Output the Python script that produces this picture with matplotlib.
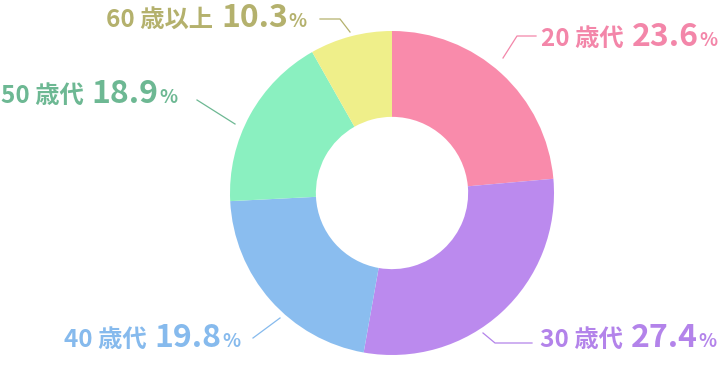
import matplotlib
matplotlib.use("Agg")
import matplotlib.pyplot as plt

# data
ages = ["20 歳代", "30 歳代", "40 歳代", "50 歳代", "60 歳以上"]
label_pct = [23.6, 27.4, 19.8, 18.9, 10.3]
# arc sizes as drawn in the source chart (they do not follow the labels exactly)
arc_share = [23.6, 29.2, 21.4, 17.6, 8.2]
wedge_colors = ["#F98BAB", "#BB8AEE", "#8ABDEF", "#8AF0C0", "#EFEF8A"]
text_colors = ["#F386A9", "#B383EA", "#86BAED", "#6DB893", "#B4B16D"]

W, H = 719, 382
FONT = ["Noto Sans CJK JP", "DejaVu Sans"]

# label layout in pixel coords (x, baseline y) and leader line points
label_pos = [(541, 46), (540, 347), (64, 347), (1, 103), (106, 27)]
leaders = [
    [(503, 58), (517, 36), (536, 36)],
    [(483, 333), (495, 343), (532, 343)],
    [(280, 318), (253, 338)],
    [(235, 124), (197, 100)],
    [(350, 32), (340, 19), (320, 19)],
]

fig = plt.figure(figsize=(W / 100, H / 100), dpi=100)
ax = fig.add_axes([0, 0, 1, 1])

cx, cy, R = 392, H - 193, 162
ax.pie(arc_share, colors=wedge_colors, startangle=90, counterclock=False,
       center=(cx, cy), radius=R, frame=True,
       wedgeprops=dict(width=R * 0.53, linewidth=0))
ax.set_xlim(0, W)
ax.set_ylim(0, H)
ax.set_aspect("equal")
ax.axis("off")

fig.canvas.draw()
renderer = fig.canvas.get_renderer()
inv = ax.transData.inverted()

for i, (age, val) in enumerate(zip(ages, label_pct)):
    col = text_colors[i]
    pts = leaders[i]
    ax.plot([p[0] for p in pts], [H - p[1] for p in pts], color=col, lw=0.9)

    x, yb = label_pos[i]
    y = H - yb
    t1 = ax.text(x, y, age, fontsize=17.5, fontweight="bold", color=col,
                 family=FONT, va="baseline", ha="left")
    bb = t1.get_window_extent(renderer)
    x2 = inv.transform((bb.x1, 0))[0] + 8
    t2 = ax.text(x2, y, f"{val:.1f}", fontsize=23, fontweight="bold", color=col,
                 family=FONT, va="baseline", ha="left")
    bb = t2.get_window_extent(renderer)
    x3 = inv.transform((bb.x1, 0))[0] + 0.5
    ax.text(x3, y, "%", fontsize=13.5, fontweight="bold", color=col,
            family=FONT, va="baseline", ha="left")

fig.savefig("out.png", dpi=100)
